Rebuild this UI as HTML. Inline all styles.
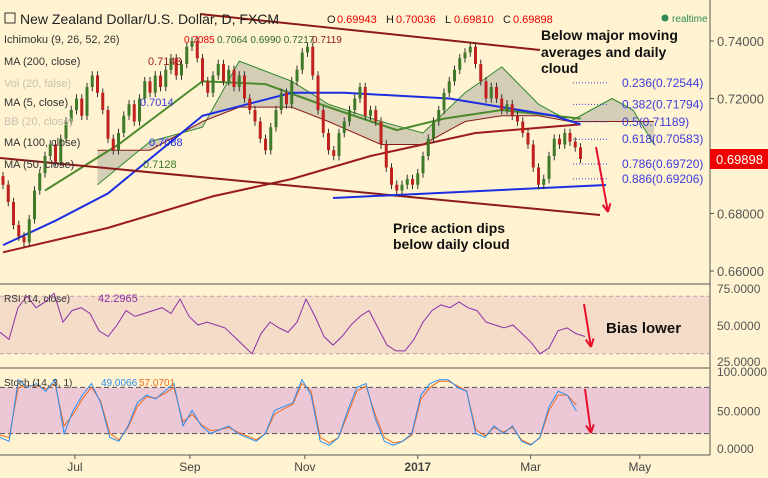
<!DOCTYPE html>
<html><head><meta charset="utf-8">
<style>
html,body{margin:0;padding:0;background:#fff3d1;}
svg{display:block;font-family:"Liberation Sans",sans-serif;}
</style></head>
<body>
<svg id="c" width="768" height="478" viewBox="0 0 768 478">
<rect x="0" y="0" width="768" height="478" fill="#fff3d1"/>
<g id="main"></g>
<g id="rsi"></g>
<g id="sto"></g>
<g id="axes"></g>
<g id="ann"></g>
</svg>
<script>
const closes=[0.690,0.684,0.676,0.672,0.670,0.678,0.688,0.694,0.700,0.704,0.698,0.706,0.712,0.716,0.720,0.714,0.724,0.728,0.722,0.716,
0.706,0.702,0.708,0.714,0.718,0.712,0.720,0.726,0.722,0.728,
0.724,0.730,0.734,0.728,0.732,0.738,0.740,0.734,0.726,0.722,
0.728,0.732,0.726,0.730,0.724,0.728,0.720,0.716,0.712,0.706,
0.702,0.710,0.716,0.722,0.718,0.726,0.730,0.736,0.738,0.728,
0.716,0.708,0.702,0.700,0.708,0.712,0.716,0.720,0.724,0.714,
0.716,0.712,0.704,0.696,0.690,0.688,0.690,0.692,0.690,0.694,
0.700,0.706,0.712,0.716,0.722,0.726,0.730,0.734,0.736,0.738,
0.732,0.726,0.720,0.724,0.720,0.716,0.718,0.714,0.712,0.708,
0.704,0.696,0.690,0.692,0.700,0.706,0.704,0.708,0.705,0.703,0.6990];
const ma200Idx=[0,20,40,55,70,90,110];
const ma200=[0.6665,0.675,0.686,0.692,0.700,0.708,0.711];
const ma100Idx=[0,10,20,38,55,65,75,85,95,105,110];
const ma100=[0.669,0.6775,0.687,0.714,0.722,0.722,0.721,0.720,0.717,0.714,0.711];
const ma50Idx=[8,22,38,50,62,75,84,95,105,110];
const ma50=[0.688,0.704,0.726,0.725,0.717,0.709,0.713,0.716,0.714,0.713];
const cloudIdx=[18,28,38,45,55,62,72,80,88,95,102,108,112,116,120,124];
const spanA=[0.690,0.705,0.710,0.733,0.726,0.718,0.712,0.708,0.722,0.731,0.718,0.712,0.716,0.720,0.716,0.704];
const spanB=[0.702,0.702,0.712,0.717,0.717,0.712,0.704,0.704,0.712,0.714,0.714,0.712,0.712,0.712,0.712,0.712];
const rsiVals=[45,40,62,70,62,66,72,52,60,62,58,46,42,50,60,56,58,60,62,58,68,56,50,52,50,48,42,36,30,44,52,48,45,52,68,56,42,36,42,50,56,60,48,36,32,32,40,52,60,64,62,66,62,60,52,50,48,50,44,38,30,34,46,48,44,42];
const stochK=[15,10,90,80,85,75,90,20,50,70,85,60,15,10,30,60,70,65,75,85,30,50,30,20,25,30,20,15,10,20,50,55,60,90,70,10,5,15,50,80,85,40,10,5,10,20,70,85,90,90,80,75,20,15,30,20,30,10,5,15,55,75,70,49];
const stochD=[18,15,80,82,82,78,85,30,45,65,80,62,20,12,28,55,68,66,72,80,35,45,32,24,25,28,22,17,12,20,45,52,58,85,75,15,8,15,45,75,82,45,15,8,10,18,65,80,88,88,82,75,25,17,28,22,28,12,6,14,50,70,70,57];
const fibLevels=["0.236","0.382","0.5","0.618","0.786","0.886"];
const fibPrices=[0.72544,0.71794,0.71189,0.70583,0.69720,0.69206];
const priceTicks=[0.74,0.72,0.70,0.68,0.66];
const monthLabels=["Jul","Sep","Nov","2017","Mar","May"];
const monthIdx=[13.7,35.6,57.5,79,100.5,121.3];

const NS="http://www.w3.org/2000/svg";
function mk(tag,attrs,parent,text){const e=document.createElementNS(NS,tag);for(const k in attrs)e.setAttribute(k,attrs[k]);if(text!==undefined)e.textContent=text;parent.appendChild(e);return e;}
const X=i=>3+i*5.25;
const Y=p=>41+(0.74-p)*2875;
const rsiY=v=>325-(v-50)*1.44;
const stY=v=>449-v*0.77;
const main=document.getElementById('main'),rsi=document.getElementById('rsi'),sto=document.getElementById('sto'),axes=document.getElementById('axes'),ann=document.getElementById('ann');

let up=cloudIdx.map((d,i)=>X(d)+','+Y(spanA[i])).join(' ');
let dn=cloudIdx.map((d,i)=>X(d)+','+Y(spanB[i])).reverse().join(' ');
let cl=mk('polygon',{points:up+' '+dn,fill:'#b9b5a5','fill-opacity':0.6},main);

let sa=mk('polyline',{points:up,fill:'none',stroke:'#2e8b2e','stroke-width':1},main);

let sb=mk('polyline',{points:cloudIdx.map((d,i)=>X(d)+','+Y(spanB[i])).join(' '),fill:'none',stroke:'#8b1a1a','stroke-width':1},main);


function line(idx,vals,color,w,name){const l=mk('polyline',{points:idx.map((d,i)=>X(d)+','+Y(vals[i])).join(' '),fill:'none',stroke:color,'stroke-width':w},main);
}
line(ma200Idx,ma200,'#9b1c1c',2,'ma-200');
line(ma50Idx,ma50,'#4c8a2c',2,'ma-50');
line(ma100Idx,ma100,'#1c2ee0',2,'ma-100');

[[0,158,600,215,'#8b1a1a',2,'lower-trendline'],[200,14,540,50,'#8b1a1a',2,'upper-trendline'],[333,198,606,185,'#1c2ee0',2,'support-line']].forEach(t=>{
const l=mk('line',{x1:t[0],y1:t[1],x2:t[2],y2:t[3],stroke:t[4],'stroke-width':t[5]},main);
});

closes.forEach((c,i)=>{const o=i?closes[i-1]:c+0.003;const hi=Math.max(o,c)+0.0015,lo=Math.min(o,c)-0.0015;
const col=c>=o?'#3f7a2a':'#c0201e';const g=mk('g',{},main);

mk('line',{x1:X(i),x2:X(i),y1:Y(hi),y2:Y(lo),stroke:'#333','stroke-width':1},g);
mk('rect',{x:X(i)-1.5,y:Math.min(Y(o),Y(c)),width:3,height:Math.max(1,Math.abs(Y(o)-Y(c))),fill:col},g);});

fibPrices.forEach((p,i)=>{const l=mk('line',{x1:573,x2:607,y1:Y(p),y2:Y(p),stroke:'#3c3cdc','stroke-dasharray':'1,2'},main);

const t=mk('text',{x:622,y:Y(p)+4,'font-size':12,fill:'#3c3cdc'},main,fibLevels[i]+'('+p.toFixed(5)+')');
});

mk('rect',{x:0,y:rsiY(70),width:710,height:rsiY(30)-rsiY(70),fill:'#f5dcc8'},rsi);
[70,30].forEach(v=>mk('line',{x1:0,x2:710,y1:rsiY(v),y2:rsiY(v),stroke:'#b8a0b0','stroke-dasharray':'4,3'},rsi));
let rl=mk('polyline',{points:rsiVals.map((v,i)=>(i*9)+','+rsiY(v)).join(' '),fill:'none',stroke:'#8b2fa8','stroke-width':1},rsi);

mk('rect',{x:0,y:stY(80),width:710,height:stY(20)-stY(80),fill:'#ecc8d6'},sto);
[80,20].forEach(v=>mk('line',{x1:0,x2:710,y1:stY(v),y2:stY(v),stroke:'#555','stroke-dasharray':'5,3'},sto));
let kd=mk('polyline',{points:stochD.map((v,i)=>(i*9.15)+','+stY(v)).join(' '),fill:'none',stroke:'#f06a20','stroke-width':1},sto);

let kk=mk('polyline',{points:stochK.map((v,i)=>(i*9.15)+','+stY(v)).join(' '),fill:'none',stroke:'#2a8ef0','stroke-width':1},sto);


mk('line',{x1:0,x2:710,y1:284,y2:284,stroke:'#555'},axes);
mk('line',{x1:0,x2:710,y1:368,y2:368,stroke:'#555'},axes);
mk('line',{x1:0,x2:710,y1:455,y2:455,stroke:'#555'},axes);
mk('line',{x1:710,x2:710,y1:0,y2:455,stroke:'#555'},axes);
priceTicks.forEach(p=>{mk('line',{x1:710,x2:714,y1:Y(p),y2:Y(p),stroke:'#555'},axes);
const t=mk('text',{x:717,y:Y(p)+5,'font-size':13,fill:'#555'},axes,p.toFixed(5));
});
[[75,rsiY(75)+4],[50,rsiY(50)+5],[25,rsiY(25)+5]].forEach(a=>mk('text',{x:717,y:a[1],'font-size':12,fill:'#555'},axes,a[0].toFixed(4)));
[[100,stY(100)+4],[50,stY(50)+5],[0,stY(0)+4]].forEach(a=>mk('text',{x:717,y:a[1],'font-size':12,fill:'#555'},axes,a[0].toFixed(4)));
const pl=mk('rect',{x:710,y:149,width:58,height:20,fill:'#f00000'},axes);

mk('text',{x:716,y:164,'font-size':13,fill:'#fff'},axes,'0.69898');
monthLabels.forEach((m,i)=>{const x=X(monthIdx[i]);mk('line',{x1:x,x2:x,y1:455,y2:459,stroke:'#555'},axes);
const t=mk('text',{x:x,y:471,'font-size':12,fill:'#444','text-anchor':'middle','font-weight':m==='2017'?'bold':'normal'},axes,m);
});

function tx(x,y,s,size,col,name,w){const t=mk('text',{x:x,y:y,'font-size':size,fill:col,'font-weight':w||'normal'},ann,s);return t;}
mk('rect',{x:5,y:13,width:10,height:10,fill:'none',stroke:'#333'},ann);
tx(20,24,'New Zealand Dollar/U.S. Dollar, D, FXCM',14,'#222','chart-title');
tx(327,23,'O',11,'#222','ohlc-o');tx(337,23,'0.69943',11,'#e00','ohlc-open');
tx(386,23,'H',11,'#222','ohlc-h');tx(396,23,'0.70036',11,'#e00','ohlc-high');
tx(445,23,'L',11,'#222','ohlc-l');tx(454,23,'0.69810',11,'#e00','ohlc-low');
tx(503,23,'C',11,'#222','ohlc-c');tx(513,23,'0.69898',11,'#e00','ohlc-close');
mk('circle',{cx:665,cy:18,r:3.5,fill:'#2e8b57'},ann);tx(672,22,'realtime',10,'#2e8b57','realtime-label');
tx(4,43,'Ichimoku (9, 26, 52, 26)',11,'#333','ichimoku-legend');
tx(184,43,'0.7085',10,'#e00','ichi-v1');tx(217,43,'0.7064 0.6990 0.7217',10,'#2e6b2e','ichi-v2');tx(312,43,'0.7119',10,'#8b1a1a','ichi-v3');
tx(4,65,'MA (200, close)',11,'#333','ma200-legend');tx(148,65,'0.7143',11,'#9b1c1c','ma200-value');
tx(4,87,'Vol (20, false)',11,'#c8c0b0','vol-legend');
tx(4,106,'MA (5, close)',11,'#333','ma5-legend');tx(140,106,'0.7014',11,'#3c3cdc','ma5-value');
tx(4,125,'BB (20, close)',11,'#c8c0b0','bb-legend');
tx(4,146,'MA (100, close)',11,'#333','ma100-legend');tx(149,146,'0.7088',11,'#1c2ee0','ma100-value');
tx(4,168,'MA (50, close)',11,'#333','ma50-legend');tx(143,168,'0.7128',11,'#3c7a2a','ma50-value');
tx(4,302,'RSI (14, close)',10,'#333','rsi-legend');tx(98,302,'42.2965',11,'#8b2fa8','rsi-value');
tx(4,386,'Stoch (14, 3, 1)',10,'#333','stoch-legend');tx(101,386,'49.0066',10,'#2a8ef0','stoch-k-value');tx(139,386,'57.0701',10,'#f06a20','stoch-d-value');
tx(541,40,'Below major moving',14,'#111','note-below-ma','bold');
tx(541,57,'averages and daily',14,'#111','note-below-ma-2','bold');
tx(541,73,'cloud',14,'#111','note-below-ma-3','bold');
tx(393,233,'Price action dips',14,'#111','note-price-action','bold');
tx(393,249,'below daily cloud',14,'#111','note-price-action-2','bold');
tx(606,333,'Bias lower',15,'#111','note-bias-lower','bold');
function arrow(x1,y1,x2,y2,name){const g=mk('g',{},ann);
mk('line',{x1:x1,y1:y1,x2:x2,y2:y2,stroke:'#e8102a','stroke-width':2},g);
const a=Math.atan2(y2-y1,x2-x1),L=9;
[0.45,-0.45].forEach(d=>mk('line',{x1:x2,y1:y2,x2:x2-L*Math.cos(a+d),y2:y2-L*Math.sin(a+d),stroke:'#e8102a','stroke-width':2},g));}
arrow(596,147,608,212,'arrow-price');
arrow(584,304,591,347,'arrow-rsi');
arrow(585,389,591,433,'arrow-stoch');
</script>
</body></html>
